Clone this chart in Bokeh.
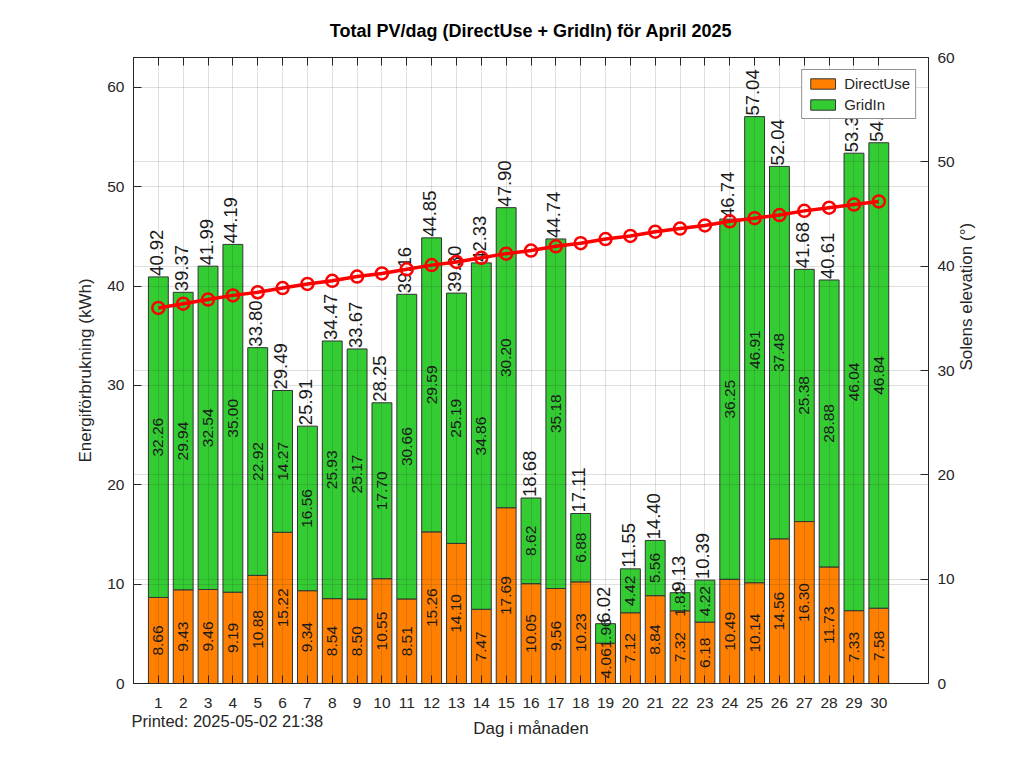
import numpy as np
from bokeh.plotting import figure
from bokeh.models import (ColumnDataSource, Range1d, LinearAxis, Grid, FixedTicker,
                          Legend, LegendItem, Title)
from bokeh.core.properties import value
from bokeh.embed import file_html
from bokeh.resources import INLINE

# daily PV data, April 2025
days = list(range(1, 31))
direct_use = [8.66, 9.43, 9.46, 9.19, 10.88, 15.22, 9.34, 8.54, 8.50, 10.55,
              8.51, 15.26, 14.10, 7.47, 17.69, 10.05, 9.56, 10.23, 4.06, 7.12,
              8.84, 7.32, 6.18, 10.49, 10.14, 14.56, 16.30, 11.73, 7.33, 7.58]
grid_in = [32.26, 29.94, 32.54, 35.00, 22.92, 14.27, 16.56, 25.93, 25.17, 17.70,
           30.66, 29.59, 25.19, 34.86, 30.20, 8.62, 35.18, 6.88, 1.96, 4.42,
           5.56, 1.82, 4.22, 36.25, 46.91, 37.48, 25.38, 28.88, 46.04, 46.84]
total_labels = ["40.92", "39.37", "41.99", "44.19", "33.80", "29.49", "25.91", "34.47",
                "33.67", "28.25", "39.16", "44.85", "39.30", "42.33", "47.90", "18.68",
                "44.74", "17.11", "6.02", "11.55", "14.40", "9.13", "10.39", "46.74",
                "57.04", "52.04", "41.68", "40.61", "53.37", "54.42"]
# sun elevation at noon (deg)
elevation = [36.0, 36.4, 36.8, 37.2, 37.5, 37.9, 38.3, 38.6, 39.0, 39.3,
             39.7, 40.1, 40.4, 40.8, 41.2, 41.5, 41.9, 42.2, 42.6, 42.9,
             43.3, 43.6, 43.9, 44.3, 44.6, 44.9, 45.3, 45.6, 45.9, 46.2]
y_ticks = [0, 10, 20, 30, 40, 50, 60]
elev_ticks = [0, 10, 20, 30, 40, 50, 60]

FONT = "Liberation Sans"
AXC = "#262626"

d = np.array(direct_use)
g = np.array(grid_in)
src = ColumnDataSource(dict(
    day=days, direct=d, grid=g, top=d + g,
    dmid=d / 2, gmid=d + g / 2,
    dlab=[f"{v:.2f}" for v in d], glab=[f"{v:.2f}" for v in g],
    tlab=total_labels,
))

p = figure(width=1016, height=758, x_range=(0, 32), y_range=(0, 63),
           output_backend="svg", toolbar_location=None,
           min_border_left=133, min_border_right=88, min_border_top=57, min_border_bottom=75)
p.extra_y_ranges = {"elev": Range1d(0, 60)}
bottom_ax = p.xaxis[0]
left_ax = p.yaxis[0]

p.title.text = "Total PV/dag (DirectUse + GridIn) för April 2025"
p.title.align = "center"
p.title.text_font = FONT
p.title.text_font_size = "18px"
p.title.text_font_style = "bold"
p.title.text_color = "black"
p.title.standoff = 33

r_direct = p.vbar(x="day", width=0.8, bottom=0, top="direct", source=src,
                  fill_color="#FF8000", line_color="#333333", line_width=1)
r_grid = p.vbar(x="day", width=0.8, bottom="direct", top="top", source=src,
                fill_color="#33CC33", line_color="#333333", line_width=1)

p.text(x="day", y="dmid", text="dlab", source=src, angle=np.pi / 2,
       text_align="center", text_baseline="middle", text_font=value(FONT),
       text_font_size="15.5px", text_color="#1a1a1a")
p.text(x="day", y="gmid", text="glab", source=src, angle=np.pi / 2,
       text_align="center", text_baseline="middle", text_font=value(FONT),
       text_font_size="15.5px", text_color="#1a1a1a")
p.text(x="day", y="top", text="tlab", source=src, angle=np.pi / 2,
       text_align="left", text_baseline="middle", text_font=value(FONT),
       text_font_size="18.5px", text_color="#1a1a1a", x_offset=-2, y_offset=-1)

p.line(days, elevation, y_range_name="elev", line_color="red", line_width=3.5)
p.scatter(days, elevation, y_range_name="elev", marker="circle", size=12,
          fill_color=None, line_color="red", line_width=2.5)

# axes
bottom_ax.ticker = FixedTicker(ticks=days)
left_ax.ticker = FixedTicker(ticks=y_ticks)
bottom_ax.axis_label = "Dag i månaden"
left_ax.axis_label = "Energiförbrukning (kWh)"

right = LinearAxis(y_range_name="elev", ticker=FixedTicker(ticks=elev_ticks),
                   axis_label="Solens elevation (°)", axis_label_orientation=np.pi / 2)
p.add_layout(right, "right")
top_ax = LinearAxis(ticker=FixedTicker(ticks=days),
                    major_label_overrides={k: "" for k in days},
                    major_label_standoff=0)
p.add_layout(top_ax, "above")

for ax in [bottom_ax, left_ax, right, top_ax]:
    ax.axis_line_color = AXC
    ax.major_tick_line_color = AXC
    ax.major_tick_in = 8
    ax.major_tick_out = 0
    ax.minor_tick_line_color = None
    ax.major_label_text_font = FONT
    ax.major_label_text_color = AXC
    ax.axis_label_text_font = FONT
    ax.axis_label_text_font_style = "normal"
    ax.axis_label_text_color = AXC
    ax.axis_label_text_font_size = "17px"
for ax in [bottom_ax, left_ax, right]:
    ax.major_label_text_font_size = "15.5px"
    ax.major_label_standoff = 9
    ax.axis_label_standoff = 9
bottom_ax.major_label_standoff = 14
bottom_ax.axis_label_standoff = 8

# grid drawn on top of the bars
p.xgrid.ticker = FixedTicker(ticks=days)
p.ygrid.ticker = FixedTicker(ticks=y_ticks)
g2 = Grid(dimension=1, y_range_name="elev", ticker=FixedTicker(ticks=elev_ticks))
p.add_layout(g2)
for gr in [p.xgrid[0], p.ygrid[0], g2]:
    gr.grid_line_color = AXC
    gr.grid_line_alpha = 0.15
    gr.level = "guide"

p.outline_line_color = AXC
p.background_fill_color = "white"
p.border_fill_color = "white"

legend = Legend(items=[LegendItem(label="DirectUse", renderers=[r_direct]),
                       LegendItem(label="GridIn", renderers=[r_grid])],
                location="top_right", margin=12, padding=5, spacing=4,
                glyph_width=31, glyph_height=13, label_standoff=6,
                label_text_font=FONT, label_text_font_size="15px",
                label_text_color=AXC, border_line_color=AXC,
                background_fill_alpha=1)
p.add_layout(legend)

printed = Title(text="Printed: 2025-05-02 21:38", align="left", offset=-2,
                vertical_align="top", standoff=-58,
                text_font=FONT, text_font_size="16.5px", text_font_style="normal",
                text_color=AXC)
p.add_layout(printed, "below")

open("out.html", "w").write(file_html(p, INLINE))
